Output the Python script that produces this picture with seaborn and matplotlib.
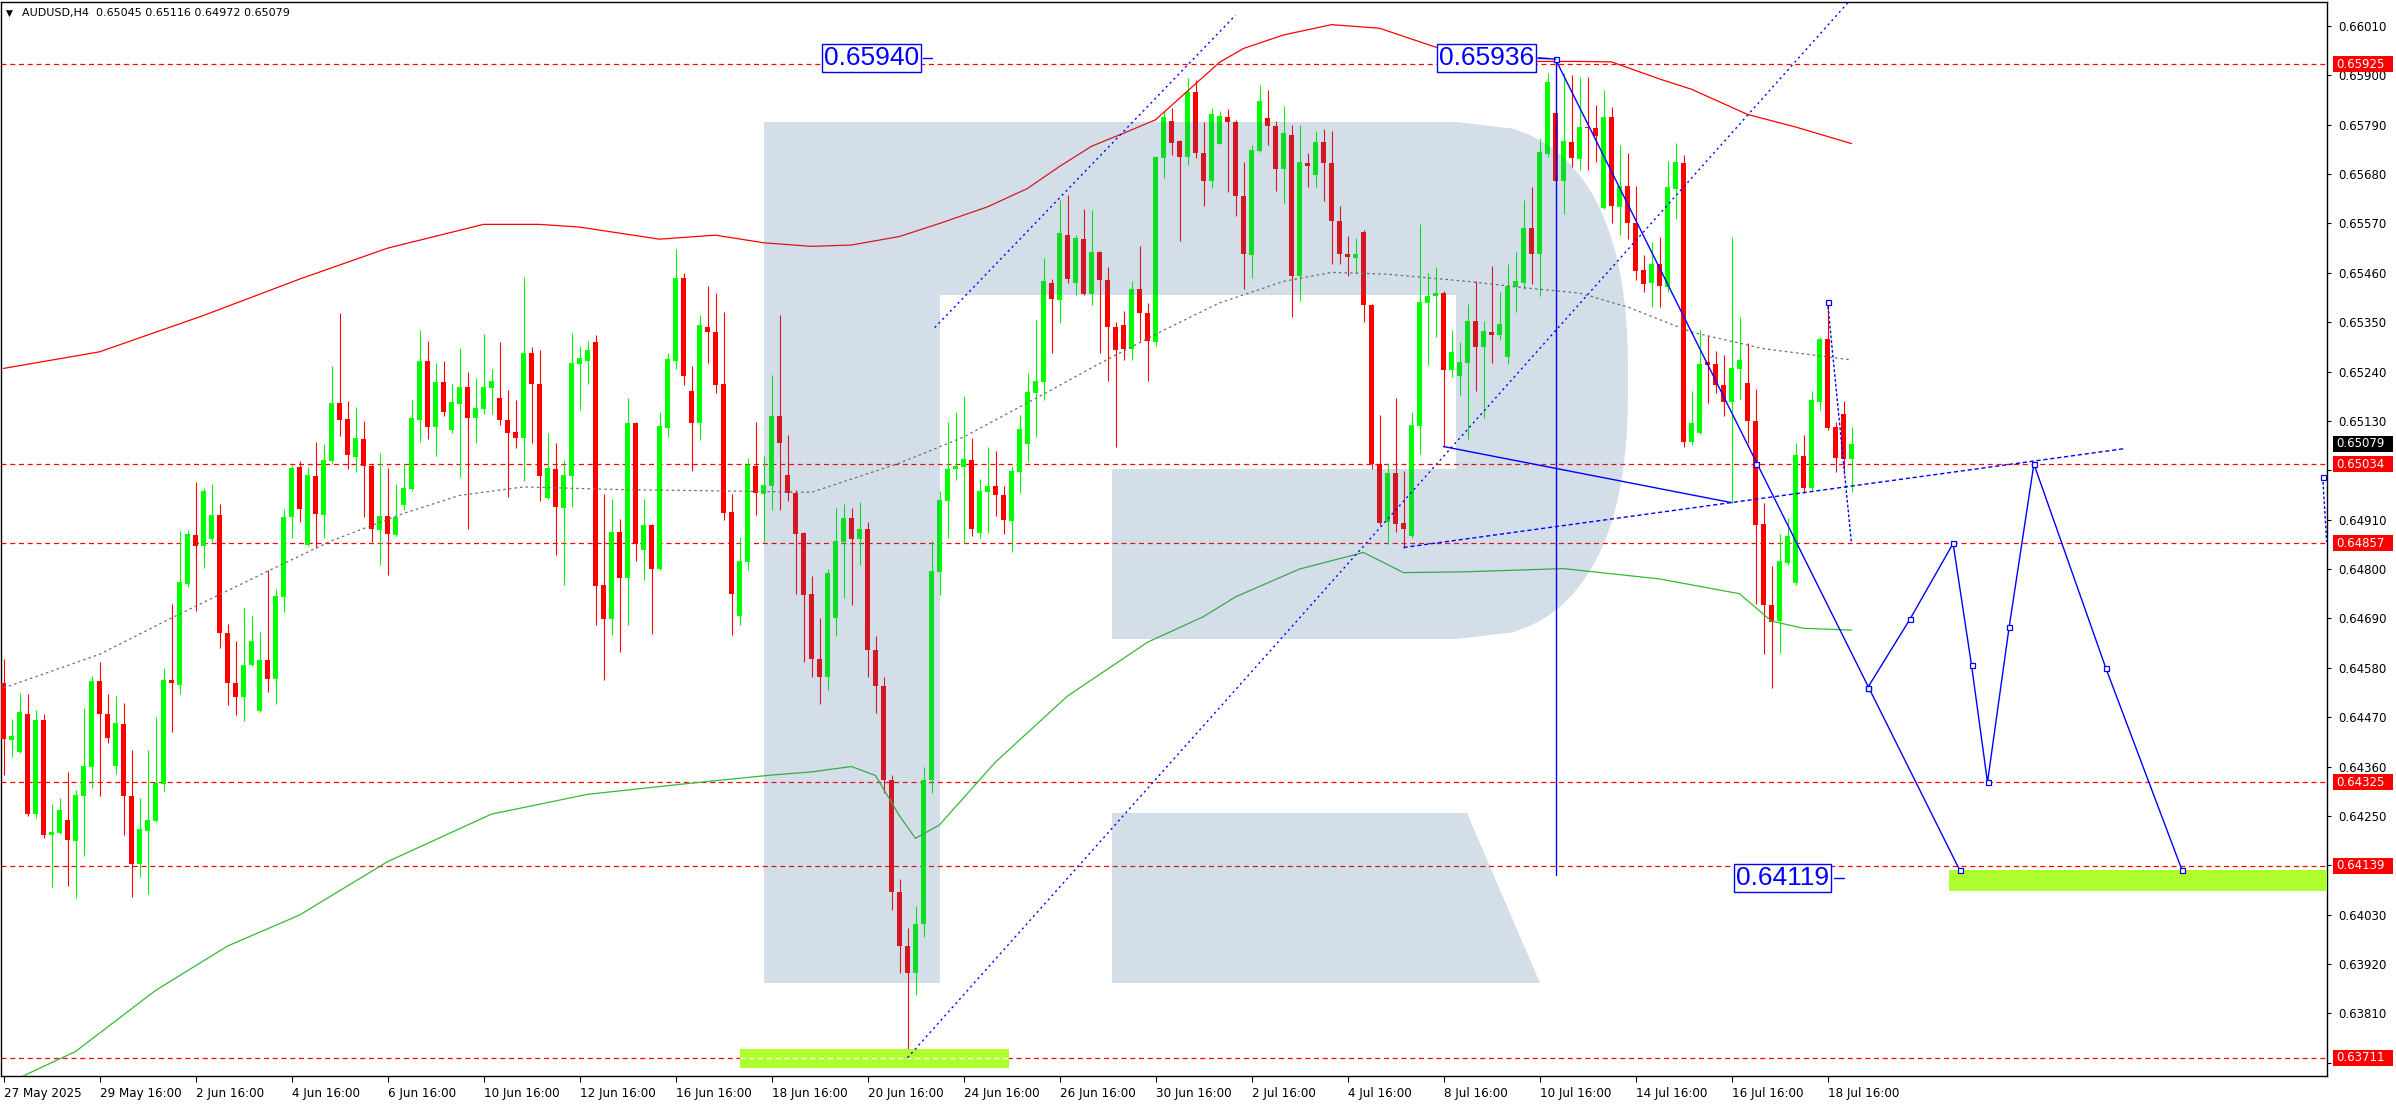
import numpy as np
import pandas as pd
import matplotlib
matplotlib.use("Agg")
import matplotlib.pyplot as plt
import seaborn as sns
from matplotlib.patches import Rectangle, Polygon
from matplotlib import font_manager as fm

# ---------------- data ----------------
tick_labels = ["27 May 2025", "29 May 16:00", "2 Jun 16:00", "4 Jun 16:00", "6 Jun 16:00",
               "10 Jun 16:00", "12 Jun 16:00", "16 Jun 16:00", "18 Jun 16:00", "20 Jun 16:00",
               "24 Jun 16:00", "26 Jun 16:00", "30 Jun 16:00", "2 Jul 16:00", "4 Jul 16:00",
               "8 Jul 16:00", "10 Jul 16:00", "14 Jul 16:00", "16 Jul 16:00", "18 Jul 16:00"]

opens = [
0.64545,0.64418,0.64393,0.64478,0.64255,0.64463,0.64208,0.64212,0.64241,0.64195,
0.64294,0.64359,0.64551,0.64478,0.64361,0.64454,0.64294,0.64142,0.64217,0.64239,
0.64321,0.64553,0.64542,0.64766,0.64875,0.64852,0.64866,0.64921,0.64658,0.64545,
0.64515,0.64586,0.64483,0.64598,0.64554,0.64737,0.64915,0.65028,0.64854,0.65008,
0.64920,0.65041,0.65170,0.65134,0.65050,0.65090,0.65029,0.64886,0.64919,0.64875,
0.64943,0.64978,0.65131,0.65263,0.65117,0.65216,0.65109,0.65167,0.65205,0.65137,
0.65157,0.65203,0.65182,0.65131,0.65105,0.65091,0.65281,0.65213,0.64958,0.65023,
0.64936,0.65007,0.65257,0.65264,0.65307,0.64764,0.64689,0.64883,0.64779,0.65125,
0.64843,0.64898,0.64800,0.65114,0.65263,0.65449,0.65196,0.65125,0.65340,0.65329,
0.65212,0.64926,0.64695,0.64816,0.65029,0.64968,0.64984,0.65141,0.65009,0.64969,
0.64881,0.64745,0.64600,0.64560,0.64690,0.64860,0.64913,0.64867,0.64890,0.64620,
0.64540,0.64330,0.64080,0.63960,0.63900,0.64010,0.64330,0.64793,0.64952,0.65023,
0.65028,0.65044,0.64881,0.64972,0.64986,0.64964,0.64908,0.65016,0.65078,0.65192,
0.65217,0.65438,0.65400,0.65545,0.65438,0.65536,0.65413,0.65506,0.65443,0.65340,
0.65343,0.65291,0.65423,0.65370,0.65307,0.65716,0.65798,0.65753,0.65719,0.65863,
0.65726,0.65664,0.65748,0.65808,0.65797,0.65631,0.65499,0.65731,0.65804,0.65788,
0.65692,0.65768,0.65453,0.65704,0.65678,0.65752,0.65704,0.65575,0.65501,0.65492,
0.65552,0.65389,0.65035,0.64905,0.65015,0.64903,0.64874,0.65118,0.65393,0.65409,
0.65416,0.65243,0.65231,0.65260,0.65352,0.65294,0.65328,0.65321,0.65273,0.65429,
0.65438,0.65560,0.65503,0.65724,0.65817,0.65665,0.65752,0.65713,0.65786,0.65783,
0.65605,0.65807,0.65607,0.65653,0.65571,0.65466,0.65438,0.65480,0.65428,0.65646,
0.65704,0.65084,0.65104,0.65261,0.65256,0.65210,0.65172,0.65246,0.65214,0.65130,
0.64901,0.64719,0.64684,0.64814,0.64768,0.65053,0.64981,0.65172,0.65312,0.65116,
0.65145,0.65045]

highs = [
0.64599,0.64465,0.64524,0.64522,0.64485,0.64477,0.64276,0.64289,0.64348,0.64307,
0.64491,0.64562,0.64594,0.64522,0.64518,0.64502,0.64396,0.64289,0.64396,0.64470,
0.64580,0.64723,0.64884,0.64886,0.64994,0.64981,0.64990,0.64944,0.64678,0.64640,
0.64714,0.64695,0.64660,0.64797,0.64756,0.64933,0.65032,0.65041,0.65028,0.65082,
0.65078,0.65252,0.65371,0.65175,0.65161,0.65130,0.65035,0.65058,0.65026,0.64989,
0.65034,0.65176,0.65332,0.65309,0.65258,0.65263,0.65212,0.65292,0.65238,0.65225,
0.65324,0.65245,0.65307,0.65198,0.65176,0.65451,0.65294,0.65289,0.65103,0.65080,
0.65043,0.65327,0.65298,0.65308,0.65321,0.64968,0.64957,0.64912,0.65181,0.65127,
0.64957,0.64900,0.65150,0.65281,0.65514,0.65459,0.65252,0.65367,0.65431,0.65414,
0.65372,0.64968,0.64872,0.65048,0.65127,0.65051,0.65233,0.65365,0.65099,0.64977,
0.64883,0.64785,0.64690,0.64800,0.64936,0.64944,0.64936,0.64949,0.64904,0.64650,
0.64560,0.64340,0.64110,0.64000,0.64050,0.64360,0.64862,0.64973,0.65128,0.65151,
0.65186,0.65091,0.65000,0.65073,0.65063,0.64986,0.65030,0.65144,0.65237,0.65356,
0.65494,0.65447,0.65622,0.65633,0.65545,0.65602,0.65601,0.65508,0.65472,0.65350,
0.65374,0.65441,0.65520,0.65393,0.65721,0.65821,0.65828,0.65757,0.65895,0.65889,
0.65797,0.65828,0.65821,0.65826,0.65801,0.65706,0.65744,0.65879,0.65868,0.65798,
0.65832,0.65789,0.65790,0.65726,0.65775,0.65781,0.65777,0.65609,0.65541,0.65538,
0.65556,0.65390,0.65143,0.65037,0.65181,0.65019,0.65151,0.65569,0.65459,0.65472,
0.65419,0.65332,0.65306,0.65391,0.65441,0.65352,0.65475,0.65418,0.65479,0.65507,
0.65622,0.65652,0.65760,0.65906,0.65936,0.65905,0.65900,0.65897,0.65897,0.65835,
0.65868,0.65830,0.65745,0.65726,0.65654,0.65499,0.65528,0.65540,0.65710,0.65750,
0.65722,0.65196,0.65333,0.65319,0.65285,0.65276,0.65540,0.65361,0.65303,0.65201,
0.64948,0.64807,0.64879,0.64913,0.65081,0.65099,0.65197,0.65317,0.65396,0.65127,
0.65174,0.65116]

lows = [
0.64342,0.64382,0.64390,0.64249,0.64246,0.64201,0.64092,0.64210,0.64093,0.64067,
0.64161,0.64313,0.64294,0.64413,0.64343,0.64208,0.64069,0.64113,0.64077,0.64237,
0.64305,0.64436,0.64522,0.64761,0.64707,0.64802,0.64861,0.64625,0.64497,0.64474,
0.64461,0.64584,0.64481,0.64526,0.64499,0.64705,0.64870,0.64904,0.64851,0.64848,
0.64870,0.65035,0.65096,0.65024,0.65017,0.64917,0.64861,0.64809,0.64786,0.64873,
0.64931,0.64975,0.65083,0.65089,0.65051,0.65142,0.65103,0.65004,0.64890,0.65081,
0.65145,0.65145,0.65120,0.64961,0.65069,0.64997,0.65080,0.64951,0.64956,0.64831,
0.64765,0.64938,0.65154,0.65212,0.64675,0.64553,0.64653,0.64615,0.64675,0.64817,
0.64776,0.64655,0.64797,0.65095,0.65246,0.65211,0.65019,0.65088,0.65258,0.65193,
0.64909,0.64652,0.64675,0.64797,0.64921,0.64860,0.64931,0.64931,0.64951,0.64745,
0.64593,0.64560,0.64500,0.64530,0.64650,0.64735,0.64719,0.64809,0.64560,0.64480,
0.64300,0.64040,0.63900,0.63711,0.63850,0.63980,0.64300,0.64743,0.64870,0.64999,
0.64858,0.64874,0.64870,0.64881,0.64919,0.64879,0.64837,0.64969,0.65038,0.65094,
0.65176,0.65282,0.65348,0.65438,0.65411,0.65411,0.65388,0.65282,0.65220,0.65073,
0.65265,0.65266,0.65309,0.65220,0.65297,0.65672,0.65723,0.65530,0.65701,0.65716,
0.65609,0.65650,0.65746,0.65641,0.65587,0.65423,0.65448,0.65729,0.65744,0.65643,
0.65616,0.65362,0.65398,0.65652,0.65652,0.65620,0.65479,0.65479,0.65453,0.65459,
0.65350,0.65023,0.64899,0.64855,0.64883,0.64848,0.64870,0.65056,0.65255,0.65316,
0.65073,0.65229,0.65188,0.65089,0.65196,0.65136,0.65259,0.65310,0.65257,0.65372,
0.65423,0.65436,0.65409,0.65718,0.65662,0.65590,0.65696,0.65690,0.65690,0.65708,
0.65603,0.65572,0.65545,0.65536,0.65445,0.65417,0.65384,0.65384,0.65417,0.65579,
0.65072,0.65076,0.65100,0.65169,0.65192,0.65141,0.64948,0.65179,0.65080,0.64722,
0.64610,0.64535,0.64614,0.64810,0.64765,0.64969,0.64974,0.65155,0.65109,0.65016,
0.65011,0.64972]

closes = [
0.64422,0.64429,0.64481,0.64255,0.64463,0.64208,0.64215,0.64264,0.64197,0.64296,
0.64361,0.64551,0.64476,0.64423,0.64456,0.64294,0.64142,0.64220,0.64241,0.64323,
0.64553,0.64545,0.64771,0.64877,0.64852,0.64974,0.64921,0.64658,0.64545,0.64515,
0.64587,0.64639,0.64598,0.64554,0.64739,0.64917,0.65026,0.64933,0.65010,0.64922,
0.65043,0.65171,0.65133,0.65055,0.65092,0.65029,0.64889,0.64919,0.64877,0.64917,
0.64980,0.65136,0.65264,0.65117,0.65216,0.65150,0.65172,0.65205,0.65137,0.65159,
0.65205,0.65220,0.65131,0.65104,0.65091,0.65281,0.65213,0.65007,0.65025,0.64938,
0.65009,0.65258,0.65270,0.65287,0.64762,0.64689,0.64883,0.64780,0.65125,0.64856,
0.64898,0.64801,0.65119,0.65267,0.65449,0.65230,0.65125,0.65343,0.65328,0.65211,
0.64924,0.64745,0.64819,0.65032,0.64970,0.64988,0.65141,0.65080,0.64969,0.64879,
0.64742,0.64600,0.64560,0.64791,0.64862,0.64913,0.64867,0.64890,0.64620,0.64540,
0.64330,0.64080,0.63960,0.63900,0.64010,0.64330,0.64795,0.64953,0.65024,0.65029,
0.65046,0.64889,0.64975,0.64986,0.64965,0.64909,0.65019,0.65113,0.65195,0.65219,
0.65441,0.65402,0.65548,0.65446,0.65538,0.65412,0.65506,0.65444,0.65340,0.65287,
0.65291,0.65425,0.65371,0.65309,0.65719,0.65807,0.65750,0.65719,0.65864,0.65728,
0.65664,0.65815,0.65810,0.65797,0.65631,0.65501,0.65733,0.65844,0.65787,0.65692,
0.65771,0.65453,0.65706,0.65698,0.65752,0.65705,0.65575,0.65501,0.65495,0.65503,
0.65388,0.65033,0.64903,0.65015,0.64901,0.64889,0.65120,0.65396,0.65409,0.65416,
0.65243,0.65283,0.65261,0.65352,0.65295,0.65330,0.65321,0.65346,0.65431,0.65441,
0.65560,0.65503,0.65729,0.65885,0.65665,0.65754,0.65716,0.65786,0.65782,0.65765,
0.65807,0.65609,0.65653,0.65571,0.65465,0.65435,0.65480,0.65430,0.65651,0.65706,
0.65084,0.65125,0.65257,0.65255,0.65209,0.65172,0.65247,0.65266,0.65130,0.64899,
0.64719,0.64683,0.64818,0.64874,0.65055,0.64981,0.65176,0.65312,0.65115,0.65048,
0.65046,0.65079]

# indicator lines (bar index, price)
upper_idx = [0,12,25,37,48,60,67,72,82,89,95,101,106,112,117,123,128,132,136,140,144,147,
             152,155,160,166,172,179,187,191,197,201,207,211,218,224,231]
upper_val = [0.65247,0.65284,0.65365,0.65446,0.65515,0.65568,0.65568,0.65562,0.65535,0.65544,
             0.65527,0.65519,0.65522,0.65541,0.65570,0.65607,0.65648,0.65697,0.65742,0.65771,
             0.65801,0.65849,0.65929,0.65960,0.65990,0.66013,0.66005,0.65963,0.65943,0.65931,
             0.65931,0.65930,0.65892,0.65869,0.65813,0.65785,0.65748]
mid_idx = [0,12,21,33,41,50,57,65,77,90,101,112,120,129,137,145,152,160,166,173,183,191,197,
           203,211,220,231]
mid_val = [0.64535,0.64610,0.64691,0.64795,0.64863,0.64924,0.64964,0.64983,0.64977,0.64974,
           0.64971,0.65036,0.65094,0.65180,0.65258,0.65332,0.65393,0.65441,0.65461,0.65457,
           0.65441,0.65425,0.65415,0.65384,0.65328,0.65291,0.65266]
lower_idx = [0,9,19,28,37,48,61,73,86,96,101,106,109,112,114,117,124,133,143,150,154,162,170,
             175,183,195,207,217,221,225,231]
lower_val = [0.63650,0.63725,0.63861,0.63960,0.64029,0.64148,0.64254,0.64298,0.64323,0.64341,
             0.64348,0.64360,0.64340,0.64250,0.64200,0.64230,0.64370,0.64517,0.64637,0.64694,
             0.64738,0.64800,0.64837,0.64792,0.64794,0.64801,0.64778,0.64745,0.64684,0.64668,
             0.64664]

levels = [0.65925, 0.65034, 0.64857, 0.64325, 0.64139, 0.63711]
current_price = 0.65079
axis_ticks = [0.66010, 0.65900, 0.65790, 0.65680, 0.65570, 0.65460, 0.65350, 0.65240, 0.65130,
              0.65020, 0.64910, 0.64800, 0.64690, 0.64580, 0.64470, 0.64360, 0.64250, 0.64140,
              0.64030, 0.63920, 0.63810, 0.63700]
hidden_ticks = [0.65020, 0.64140, 0.63700]   # covered by the level tags

# drawn analysis objects (bar index, price)
forecast_idx = [233.0, 238.3, 243.7, 246.0, 248.0, 250.7, 253.8, 262.8, 272.3]
forecast_val = [0.64535, 0.64688, 0.64857, 0.64586, 0.64325, 0.64670, 0.65034, 0.64579, 0.64130]
drop_idx = [194.0, 219.0, 233.0, 244.5]
drop_val = [0.65936, 0.65034, 0.64535, 0.64130]
chan_low_idx, chan_low_val = [113.0, 231.0], [0.63711, 0.66071]
chan_up_idx, chan_up_val = [116.4, 154.0], [0.65338, 0.66034]
tri_low_idx, tri_low_val = [175.0, 265.0], [0.64848, 0.65068]
tri_up_idx, tri_up_val = [180.0, 216.0], [0.65073, 0.64948]
recent_idx, recent_val = [228.0, 231.0], [0.65396, 0.64857]
edge_idx, edge_val = [289.9, 290.4], [0.65005, 0.64860]
target_zone_hi = (243.2, 0.64082, 0.64130)
target_zone_lo = (92.1, 125.7, 0.63688, 0.63730)
price_labels = [("0.65940", 108.5, 0.65939), ("0.65936", 185.4, 0.65939), ("0.64119", 222.4, 0.64112)]
header = "AUDUSD,H4  0.65045 0.65116 0.64972 0.65079"

# ---------------- figure ----------------
sns.set_theme(style="white", rc={"axes.edgecolor": "black", "text.color": "black",
                                 "xtick.color": "black", "ytick.color": "black"})
plt.rcParams['font.family'] = ['DejaVu Sans']

# pick a narrow face for the date labels, if one is installed
_fonts = fm.fontManager.ttflist
if any(f.name == "Liberation Sans Narrow" for f in _fonts):
    date_font = dict(family="Liberation Sans Narrow", fontsize=10.5)
elif any(f.name == "DejaVu Sans" and "condensed" in str(f.stretch) for f in _fonts):
    date_font = dict(family="DejaVu Sans", fontstretch="condensed", fontsize=9.5)
else:
    date_font = dict(family="Liberation Sans", fontsize=9)

W, H = 2396, 1110
fig = plt.figure(figsize=(W / 100, H / 100), dpi=100)
fig.patch.set_facecolor("white")
AX_L, AX_R, AX_T, AX_B = 1, 2327, 2, 1076
ax = fig.add_axes([AX_L / W, 1 - AX_B / H, (AX_R - AX_L) / W, (AX_B - AX_T) / H])
ax.set_facecolor("white")

PPU, P_REF, Y_REF = 44880.0, 0.66010, 26.0
BAR_PX, X0 = 8.0, 3.5
ax.set_xlim((AX_L - X0) / BAR_PX, (AX_R - X0) / BAR_PX)
ax.set_ylim(P_REF - (AX_B - Y_REF) / PPU, P_REF + (Y_REF - AX_T) / PPU)


def px2d(xp, yp):
    return ((xp - X0) / BAR_PX, P_REF - (yp - Y_REF) / PPU)


def ypix(p):
    return Y_REF + (P_REF - p) * PPU


GREEN, RED, BLUE = "#00ff00", "#ff0000", "#0000ff"

# candles
df = pd.DataFrame({"o": opens, "h": highs, "l": lows, "c": closes})
assert len(df) == 232
df["x"] = np.arange(len(df))
df["col"] = np.where(df["c"] >= df["o"], GREEN, RED)
body_lo = np.minimum(df["o"], df["c"])
body_h = np.maximum(np.abs(df["c"] - df["o"]), 1.2 / PPU)
ax.vlines(df["x"], df["l"], df["h"], colors=df["col"], lw=0.8, zorder=3)
ax.bar(df["x"], body_h, bottom=body_lo, width=0.62, color=df["col"], linewidth=0, zorder=4)

# indicator lines
sns.lineplot(x=upper_idx, y=upper_val, ax=ax, color="#ff0000", linewidth=0.9,
             estimator=None, sort=False, legend=False, zorder=5)
sns.lineplot(x=lower_idx, y=lower_val, ax=ax, color="#33bb33", linewidth=0.9,
             estimator=None, sort=False, legend=False, zorder=5)
ax.plot(mid_idx, mid_val, color="#6e6e6e", lw=0.9, ls=(0, (2, 2.5)), zorder=5)

# horizontal levels
for p in levels:
    ax.axhline(p, color=RED, lw=0.9, ls=(0, (4, 3)), zorder=2)

# target zones
ax.add_patch(Rectangle((target_zone_hi[0], target_zone_hi[1]), 60, target_zone_hi[2] - target_zone_hi[1],
                       facecolor="#adff2f", edgecolor="none", zorder=6))
ax.add_patch(Rectangle((target_zone_lo[0], target_zone_lo[2]), target_zone_lo[1] - target_zone_lo[0],
                       target_zone_lo[3] - target_zone_lo[2], facecolor="#adff2f", edgecolor="none", zorder=6))
ax.plot([target_zone_lo[0], target_zone_lo[1]], [0.63711, 0.63711], color="white", lw=0.9,
        ls=(0, (4, 3)), zorder=6.5)

# watermark logo (translucent overlay)
logo_rgb = (66 / 255, 110 / 255, 158 / 255)
pieces = []
pieces.append([(764, 122), (940, 122), (940, 983), (764, 983)])
pieces.append([(940, 122), (1456, 122), (1456, 295), (940, 295)])
pieces.append([(1112, 469), (1456, 469), (1456, 639), (1112, 639)])
t = np.linspace(-1, 1, 80)
xs = 1456 + 172 * (1 - np.abs(t) ** 2.5) ** (1 / 2.5)
ys = 380.5 + 258.5 * t
pieces.append([(1456, 122)] + list(zip(xs, ys)) + [(1456, 639)])
pieces.append([(1112, 813), (1467, 813), (1540, 983), (1112, 983)])
for pc in pieces:
    ax.add_patch(Polygon([px2d(a, b) for a, b in pc], closed=True, facecolor=logo_rgb,
                         alpha=0.227, edgecolor="none", zorder=7))

# blue analysis objects
dot = (0, (1.5, 2.5))
ax.plot(chan_low_idx, chan_low_val, color=BLUE, lw=1.0, ls=dot, zorder=8)
ax.plot(chan_up_idx, chan_up_val, color=BLUE, lw=1.0, ls=dot, zorder=8)
ax.plot(tri_low_idx, tri_low_val, color=BLUE, lw=1.0, ls=(0, (3, 2)), zorder=8)
ax.plot(recent_idx, recent_val, color=BLUE, lw=1.0, ls=(0, (2, 1.5)), zorder=8)
ax.plot(edge_idx, edge_val, color=BLUE, lw=1.0, ls=(0, (2, 1.5)), zorder=8, clip_on=False)
ax.plot(tri_up_idx, tri_up_val, color=BLUE, lw=1.0, zorder=8)
ax.plot([drop_idx[0], drop_idx[-1]], [drop_val[0], drop_val[-1]], color=BLUE, lw=1.0, zorder=8)
ax.plot([drop_idx[0], drop_idx[0]], [drop_val[0], 0.64119], color=BLUE, lw=1.0, zorder=8)
sns.lineplot(x=forecast_idx, y=forecast_val, ax=ax, color=BLUE, linewidth=1.0,
             estimator=None, sort=False, legend=False, zorder=8)
mk = dict(marker="s", ms=3.6, mfc="white", mec=BLUE, mew=0.9, ls="none", zorder=9)
ax.plot(forecast_idx, forecast_val, **mk)
ax.plot(drop_idx, drop_val, **mk)
ax.plot([recent_idx[0]], [recent_val[0]], **mk)
ax.plot([edge_idx[0]], [edge_val[0]], clip_on=False, **mk)

# price labels (boxes)
for txt, xi, pv in price_labels:
    ax.text(xi, pv, txt, fontsize=19, family=["Liberation Sans", "DejaVu Sans"], color=BLUE,
            ha="center", va="center", zorder=10,
            bbox=dict(boxstyle="square,pad=0.08", facecolor="white", edgecolor=BLUE, linewidth=1.0))
    ax.plot([xi + 6.4, xi + 7.6], [pv, pv], color=BLUE, lw=1.0, zorder=10)
ax.plot([185.4 + 6.4, 194.0], [0.65939, 0.65936], color=BLUE, lw=1.0, zorder=10)

# axes styling
for s in ax.spines.values():
    s.set_visible(True)
    s.set_color("black")
    s.set_linewidth(1.0)
ax.yaxis.tick_right()
ax.set_yticks(axis_ticks)
ax.set_yticklabels(["" if v in hidden_ticks else f"{v:.5f}" for v in axis_ticks], fontsize=8.5)
ax.tick_params(axis="y", which="major", direction="out", length=3, width=0.8, pad=5,
               right=True, left=False, labelright=True, labelleft=False)
ax.set_xticks(np.arange(0, 12 * len(tick_labels), 12))
ax.set_xticklabels(tick_labels, **date_font)
for lbl in ax.get_xticklabels():
    lbl.set_ha("left")
ax.tick_params(axis="x", which="major", direction="out", length=4, width=0.8, pad=4, bottom=True)
ax.set_xlabel("")
ax.set_ylabel("")
ax.grid(False)

# right-axis level tags
for p in levels + [current_price]:
    yp = ypix(p)
    fc = "black" if p == current_price else RED
    fig.patches.append(Rectangle((2333 / W, 1 - (yp + 8) / H), 60 / W, 16 / H, transform=fig.transFigure,
                                 facecolor=fc, edgecolor="none", zorder=20))
    fig.text(2336 / W, 1 - yp / H, f"{p:.5f}", color="white", fontsize=8.5, va="center", ha="left",
             zorder=21)

# header
fig.text(6 / W, 1 - 13 / H, "\u25bc", fontsize=6.5, va="center", ha="left", color="black")
fig.text(22 / W, 1 - 13 / H, header, fontsize=8, va="center", ha="left", color="black")

fig.savefig("out.png", dpi=100, facecolor="white")
